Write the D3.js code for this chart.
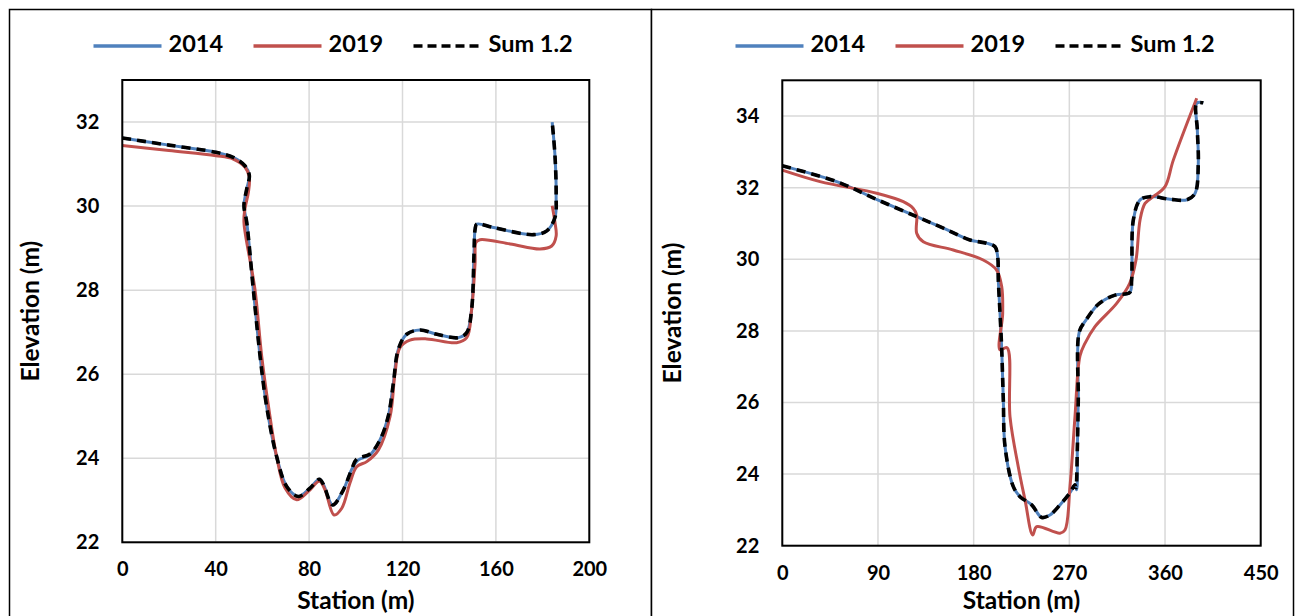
<!DOCTYPE html>
<html>
<head>
<meta charset="utf-8">
<script src="https://cdn.jsdelivr.net/npm/d3@7/dist/d3.min.js"></script>
<style>
  body { margin: 0; background: #fff; }
  svg text { font-family: Lato, "Open Sans", "DejaVu Sans", sans-serif; font-weight: bold; fill: #000; }
</style>
</head>
<body>
<svg id="chart" width="1296" height="616"></svg>
<script>
// Series names and colours
const seriesNames = ["2014", "2019", "Sum 1.2"];
const seriesColors = ["#4F81BD", "#C0504D", "#000000"];

// Tick labels
const leftXTicks = [0, 40, 80, 120, 160, 200];
const leftYTicks = [22, 24, 26, 28, 30, 32];
const rightXTicks = [0, 90, 180, 270, 360, 450];
const rightYTicks = [22, 24, 26, 28, 30, 32, 34];

// Cross-section 1: [station (m), elevation (m)]
const left2014 = [
  [0, 31.62], [20, 31.45], [40.1, 31.28], [47.5, 31.16], [52.5, 30.96], [54.4, 30.73],
  [53.3, 30.41], [52.1, 30.01], [53.3, 29.61], [56.1, 28.02], [59, 26.43], [61.8, 25.24],
  [66.1, 24.04], [70.4, 23.33], [75.4, 23.09], [80.4, 23.29], [84.4, 23.5], [86.1, 23.38],
  [90.1, 22.89], [94.7, 23.25], [98.2, 23.73], [101.1, 23.96], [106.1, 24.08], [110.4, 24.44],
  [113.9, 25.0], [116.1, 25.79], [118.2, 26.59], [121.8, 26.95], [127.5, 27.05], [134.7, 26.95],
  [143.9, 26.87], [147.5, 26.99], [149.6, 27.54], [150.6, 28.82], [151.1, 29.45], [151.8, 29.57],
  [158.9, 29.49], [176, 29.32], [181.8, 29.41], [185.3, 29.73], [185.8, 30.25], [185.3, 31.2],
  [184.1, 32.0]
];
const left2019 = [
  [0, 31.44], [20, 31.32], [40.1, 31.2], [47.5, 31.12], [52.5, 30.93], [54.4, 30.69],
  [54, 30.33], [52.5, 29.93], [52.1, 29.61], [56.8, 28.02], [59.7, 26.43], [62.6, 25.24],
  [66.1, 24.04], [69.7, 23.29], [74.7, 23.01], [79.7, 23.21], [84.4, 23.45], [86.8, 23.25],
  [90.7, 22.65], [94, 22.81], [97.5, 23.41], [100.4, 23.8], [104.7, 23.92], [109.7, 24.2],
  [114.7, 25.0], [116.8, 26.03], [118.9, 26.63], [123.2, 26.81], [130.4, 26.84], [143.2, 26.75],
  [147.5, 26.87], [149.6, 27.54], [151.1, 28.66], [151.5, 29.14], [153.2, 29.2], [166.1, 29.1],
  [178.9, 28.98], [183.9, 29.05], [185.8, 29.29], [185.3, 29.61], [184.1, 30.01]
];
const leftSum12 = [
  [0, 31.62], [20, 31.45], [40.1, 31.28], [47.5, 31.16], [52.5, 30.96], [54.4, 30.73],
  [53.3, 30.41], [52.1, 30.01], [53.3, 29.61], [56.1, 28.02], [59, 26.43], [61.8, 25.24],
  [66.1, 24.04], [70.4, 23.33], [75.4, 23.09], [80.4, 23.29], [84.4, 23.5], [86.1, 23.38],
  [90.1, 22.89], [94.7, 23.25], [98.2, 23.73], [100.4, 23.98], [106.1, 24.1], [110.4, 24.44],
  [113.9, 25.0], [116.1, 25.79], [118.2, 26.59], [121.8, 26.95], [127.5, 27.05], [134.7, 26.95],
  [143.9, 26.87], [147.5, 26.99], [149.6, 27.54], [150.6, 28.82], [151.1, 29.45], [151.8, 29.57],
  [158.9, 29.49], [176, 29.32], [181.8, 29.41], [185.3, 29.73], [185.8, 30.25], [185.3, 31.2],
  [184.1, 32.0]
];

// Cross-section 2: [station (m), elevation (m)]
const right2014 = [
  [0, 32.61], [51.2, 32.17], [89.7, 31.66], [126.4, 31.19], [151.5, 30.87], [176.5, 30.54],
  [192.2, 30.45], [200.1, 30.35], [202.6, 30.07], [203.2, 29.42], [204.8, 28.49], [206.4, 27.47],
  [207.9, 26.07], [209.5, 24.77], [217.3, 23.65], [223.6, 23.37], [234.6, 23.14], [244, 22.79],
  [251.8, 22.86], [261.2, 23.14], [270.6, 23.48], [275.3, 23.7], [276.9, 23.56], [277.5, 24.67],
  [278.4, 26.07], [279.4, 27.98], [285.6, 28.3], [297.4, 28.75], [313, 29.0], [326.8, 29.07],
  [328.6, 29.42], [330.2, 31.1], [336.5, 31.66], [345.9, 31.75], [364.7, 31.68], [380.4, 31.66],
  [388.2, 31.84], [391.3, 32.68], [390.4, 33.61], [389.8, 34.36], [396, 34.37]
];
const right2019 = [
  [0, 32.49], [35.5, 32.17], [89.7, 31.84], [113.8, 31.61], [123.2, 31.42], [126.4, 31.24],
  [126.4, 30.73], [132.6, 30.49], [160.8, 30.26], [189, 29.98], [201.6, 29.7], [206.4, 29.23],
  [207.3, 28.49], [204.8, 27.47], [211.4, 27.53], [214.2, 25.6], [222, 24.2], [228.3, 23.28],
  [235.5, 22.3], [239.3, 22.53], [261.2, 22.35], [265.9, 22.44], [270.6, 23.65], [275.3, 25.6],
  [280, 27.3], [284.7, 27.65], [294.1, 28.12], [314.5, 28.77], [326.8, 29.33], [332.7, 29.98],
  [336.5, 31.1], [341.2, 31.56], [349, 31.75], [360, 32.03], [367.8, 32.77], [389.8, 34.5]
];
const rightSum12 = [
  [0, 32.61], [51.2, 32.17], [89.7, 31.66], [126.4, 31.19], [151.5, 30.87], [176.5, 30.54],
  [192.2, 30.45], [200.1, 30.35], [202.6, 30.07], [203.2, 29.42], [204.8, 28.49], [206.4, 27.47],
  [207.9, 26.07], [209.5, 24.77], [217.3, 23.65], [223.6, 23.37], [234.6, 23.14], [244, 22.79],
  [251.8, 22.86], [261.2, 23.14], [270.6, 23.48], [275.3, 23.7], [276.2, 23.62], [277.5, 24.67],
  [278.4, 26.07], [279.4, 27.98], [285.6, 28.3], [297.4, 28.75], [313, 29.0], [326.8, 29.07],
  [328.6, 29.42], [330.2, 31.1], [336.5, 31.66], [345.9, 31.75], [364.7, 31.68], [380.4, 31.66],
  [388.2, 31.84], [391.3, 32.68], [390.4, 33.61], [389.8, 34.36], [396, 34.37]
];

const svg = d3.select("#chart");

// Panel layout
const panels = [
  {
    frame: { x: 9.5, y: 9.5, w: 642, h: 620 },
    plot: { x0: 122.3, x1: 589.3, y0: 542.3, y1: 80 },
    xDomain: [0, 200], yDomain: [22, 33],
    xTicks: leftXTicks, yTicks: leftYTicks,
    series: [left2014, left2019, leftSum12]
  },
  {
    frame: { x: 651.5, y: 9.5, w: 642, h: 620 },
    plot: { x0: 782.3, x1: 1260.7, y0: 545.7, y1: 80.3 },
    xDomain: [0, 450], yDomain: [22, 35],
    xTicks: rightXTicks, yTicks: rightYTicks,
    series: [right2014, right2019, rightSum12]
  }
];

panels.forEach(p => {
  const g = svg.append("g");
  const f = p.frame, a = p.plot;

  // outer frame
  g.append("rect")
    .attr("x", f.x).attr("y", f.y).attr("width", f.w).attr("height", f.h)
    .attr("fill", "#fff").attr("stroke", "#000").attr("stroke-width", 1.5);

  const x = d3.scaleLinear().domain(p.xDomain).range([a.x0, a.x1]);
  const y = d3.scaleLinear().domain(p.yDomain).range([a.y0, a.y1]);

  // gridlines
  g.append("g").selectAll("line").data(p.xTicks).join("line")
    .attr("x1", d => x(d)).attr("x2", d => x(d))
    .attr("y1", a.y0).attr("y2", a.y1)
    .attr("stroke", "#d9d9d9").attr("stroke-width", 1.5);
  g.append("g").selectAll("line").data(p.yTicks).join("line")
    .attr("x1", a.x0).attr("x2", a.x1)
    .attr("y1", d => y(d)).attr("y2", d => y(d))
    .attr("stroke", "#d9d9d9").attr("stroke-width", 1.5);

  // axes (labels only; the plot frame draws the axis lines)
  const xAxis = d3.axisBottom(x).tickValues(p.xTicks).tickSize(0).tickPadding(20)
    .tickFormat(d3.format("d"));
  const gx = g.append("g").attr("transform", `translate(0,${a.y0})`).call(xAxis);
  gx.select(".domain").remove();
  gx.selectAll("text").style("font-size", "20px").attr("font-family", null);

  const yAxis = d3.axisLeft(y).tickValues(p.yTicks).tickSize(0).tickPadding(23)
    .tickFormat(d3.format("d"));
  const gy = g.append("g").attr("transform", `translate(${a.x0},0)`).call(yAxis);
  gy.select(".domain").remove();
  gy.selectAll("text").style("font-size", "20px").attr("font-family", null);

  // series lines
  const line = d3.line().x(d => x(d[0])).y(d => y(d[1])).curve(d3.curveCatmullRom.alpha(0.5));
  p.series.forEach((s, i) => {
    g.append("path").datum(s)
      .attr("d", line)
      .attr("fill", "none")
      .attr("stroke", seriesColors[i])
      .attr("stroke-width", i === 2 ? 3.6 : 3)
      .attr("stroke-linejoin", "round")
      .attr("stroke-dasharray", i === 2 ? "9,6" : null);
  });

  // plot frame
  g.append("rect")
    .attr("x", a.x0).attr("y", a.y1).attr("width", a.x1 - a.x0).attr("height", a.y0 - a.y1)
    .attr("fill", "none").attr("stroke", "#000").attr("stroke-width", 2);

  // axis titles
  g.append("text")
    .attr("x", (a.x0 + a.x1) / 2 - 0).attr("y", 609)
    .attr("text-anchor", "middle")
    .style("font-size", "24.5px")
    .text("Station (m)");
  const midY = (a.y0 + a.y1) / 2;
  g.append("text")
    .attr("transform", `translate(${f.x + 23},${midY}) rotate(-90)`)
    .attr("text-anchor", "middle").attr("dominant-baseline", "middle")
    .style("font-size", "24.5px")
    .text("Elevation (m)");

  // legend
  const lx = f.x + 84, ly = 46;
  seriesNames.forEach((name, i) => {
    const ix = lx + i * 160;
    g.append("line")
      .attr("x1", ix).attr("x2", ix + 68).attr("y1", ly).attr("y2", ly)
      .attr("stroke", seriesColors[i])
      .attr("stroke-width", i === 2 ? 3.6 : 3.5)
      .attr("stroke-dasharray", i === 2 ? "9,5" : null);
    g.append("text")
      .attr("x", ix + 75).attr("y", ly)
      .attr("dominant-baseline", "middle")
      .style("font-size", "23.5px")
      .text(name);
  });
});
</script>
</body>
</html>
